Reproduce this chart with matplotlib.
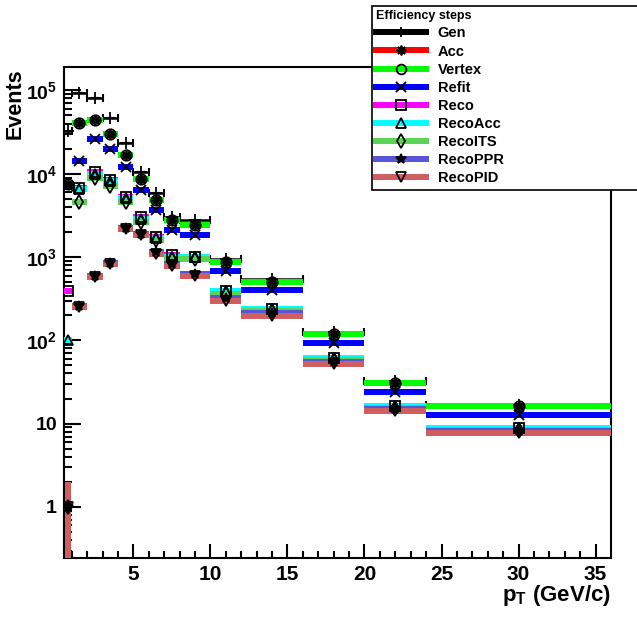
import numpy as np
import matplotlib
matplotlib.use('Agg')
import matplotlib.pyplot as plt
from matplotlib.lines import Line2D
from matplotlib.ticker import FixedLocator, FuncFormatter, LogLocator

plt.rcParams['font.family'] = ['Liberation Sans', 'DejaVu Sans']
plt.rcParams['font.weight'] = 'bold'
plt.rcParams['mathtext.fontset'] = 'custom'
plt.rcParams['mathtext.rm'] = 'Liberation Sans:bold'
plt.rcParams['mathtext.bf'] = 'Liberation Sans:bold'
plt.rcParams['mathtext.it'] = 'Liberation Sans:bold'

# pT binning (GeV/c)
bin_edges = [0.5, 1, 2, 3, 4, 5, 6, 7, 8, 10, 12, 16, 20, 24, 36]

# events per bin for each efficiency step
gen = [33000, 94000, 80600, 46300, 23600, 10600, 5830, 3000, 2790, 949, 538, 126, 32.6, 16.8]
acc = [7500, 40400, 44200, 30000, 16800, 8600, 4840, 2790, 2400, 873, 505, 120, 30.8, 16.2]
vertex = [7500, 40400, 44200, 30000, 16800, 8600, 4840, 2790, 2400, 873, 505, 120, 30.8, 16.2]
refit = [7200, 14400, 25900, 19700, 12200, 6390, 3670, 2110, 1860, 685, 397, 93.5, 23.7, 12.8]
reco = [390, 6800, 10500, 8500, 5300, 3000, 1750, 1050, 1000, 395, 240, 62, 16.5, 8.9]
reco_acc = [100, 6500, 10000, 8200, 5100, 2850, 1680, 1010, 990, 386, 235, 60.6, 16.1, 8.75]
reco_its = [1, 4600, 9000, 7200, 4600, 2650, 1580, 960, 940, 360, 225, 58, 15.4, 8.4]
reco_ppr = [1, 259, 593, 857, 2220, 1900, 1150, 830, 620, 323, 210, 55, 14.8, 8.06]
reco_pid = [1, 250, 570, 830, 2150, 1830, 1100, 790, 600, 297, 196, 51.4, 14.2, 7.7]

steps = ['Gen', 'Acc', 'Vertex', 'Refit', 'Reco', 'RecoAcc', 'RecoITS', 'RecoPPR', 'RecoPID']
series = [gen, acc, vertex, refit, reco, reco_acc, reco_its, reco_ppr, reco_pid]
colors = ['#000000', '#ff0000', '#00ff00', '#0000ff', '#ff00ff', '#00ffff',
          '#59d454', '#5954d8', '#cf5e61']
markers = ['+', (8, 2, 0), 'o', 'x', 's', '^', 'd', '*', 'v']
filled = [True, True, False, True, False, False, False, True, False]

edges = np.array(bin_edges)
centers = 0.5 * (edges[1:] + edges[:-1])
half_w = 0.5 * (edges[1:] - edges[:-1])

fig = plt.figure(figsize=(6.37, 6.17), dpi=100)
ax = fig.add_axes([64 / 637, 1 - 558 / 617, 547 / 637, 491 / 617])

for name, vals, col, mk, fl in zip(steps, series, colors, markers, filled):
    vals = np.array(vals, dtype=float)
    # weighted histograms: only single-count bins carry a visible error
    err_up = np.where(vals <= 1, vals, 0.0)
    err_lo = np.where(vals <= 1, vals * 0.999, 0.0)
    if name == 'Gen':
        ax.errorbar(centers, vals, xerr=half_w, yerr=[err_lo, err_up], fmt='none',
                    ecolor=col, elinewidth=1.8, capsize=3, capthick=1.5, zorder=2)
    else:
        ax.errorbar(centers, vals, xerr=half_w, yerr=[err_lo, err_up], fmt='none',
                    ecolor=col, elinewidth=4.3, capsize=0, zorder=3)
    ax.plot(centers, vals, ls='none', marker=mk, ms=7.5 if mk != '+' else 9,
            mec='k', mfc='k' if fl else 'none', mew=1.3, zorder=6)

ax.set_yscale('log')
ax.set_xlim(0.5, 36)
ax.set_ylim(0.244, 1.91e5)

ax.xaxis.set_major_locator(FixedLocator([5, 10, 15, 20, 25, 30, 35]))
ax.xaxis.set_minor_locator(FixedLocator(np.arange(1, 36, 1)))
ax.yaxis.set_major_locator(LogLocator(base=10, numticks=12))
ax.yaxis.set_minor_locator(LogLocator(base=10, subs=np.arange(2, 10), numticks=12))


def log_label(v, pos):
    k = int(round(np.log10(v)))
    if k == 0:
        return '1'
    if k == 1:
        return '10'
    return r'$\mathbf{10^{%d}}$' % k


ax.yaxis.set_major_formatter(FuncFormatter(log_label))
ax.tick_params(which='both', direction='in', top=False, right=False, width=1.5)
ax.tick_params(axis='x', which='major', length=10, pad=5, labelsize=15)
ax.tick_params(axis='x', which='minor', length=5)
ax.tick_params(axis='y', which='major', length=12, pad=5, labelsize=14)
ax.tick_params(axis='y', which='minor', length=6)
for sp in ax.spines.values():
    sp.set_linewidth(1.5)

fig.text(15 / 637, 1 - 68 / 617, 'Events', rotation=90, ha='center', va='top',
         fontsize=15.5, fontweight='bold')
fig.text(611 / 637, 1 - 596 / 617, r'p$_{\mathbf{T}}$ (GeV/c)', ha='right',
         va='center', fontsize=16, fontweight='bold')

handles = [Line2D([0], [0], color=c, lw=4.3, marker=m, ms=7, mec='k',
                  mfc='k' if fl else 'none', mew=1.3)
           for c, m, fl in zip(colors, markers, filled)]
leg = fig.legend(handles, steps, loc='upper left',
                 bbox_to_anchor=(372 / 637, 1 - 6 / 617, 268 / 637, 0),
                 mode='expand', borderaxespad=0, fancybox=False,
                 edgecolor='k', framealpha=1, title='Efficiency steps',
                 title_fontproperties={'weight': 'bold', 'size': 9},
                 alignment='left', prop={'weight': 'bold', 'size': 10.5},
                 handlelength=3.4, handletextpad=0.8, labelspacing=0.28,
                 borderpad=0.3)
leg.get_frame().set_linewidth(1.2)

fig.savefig('out.png', dpi=100)
